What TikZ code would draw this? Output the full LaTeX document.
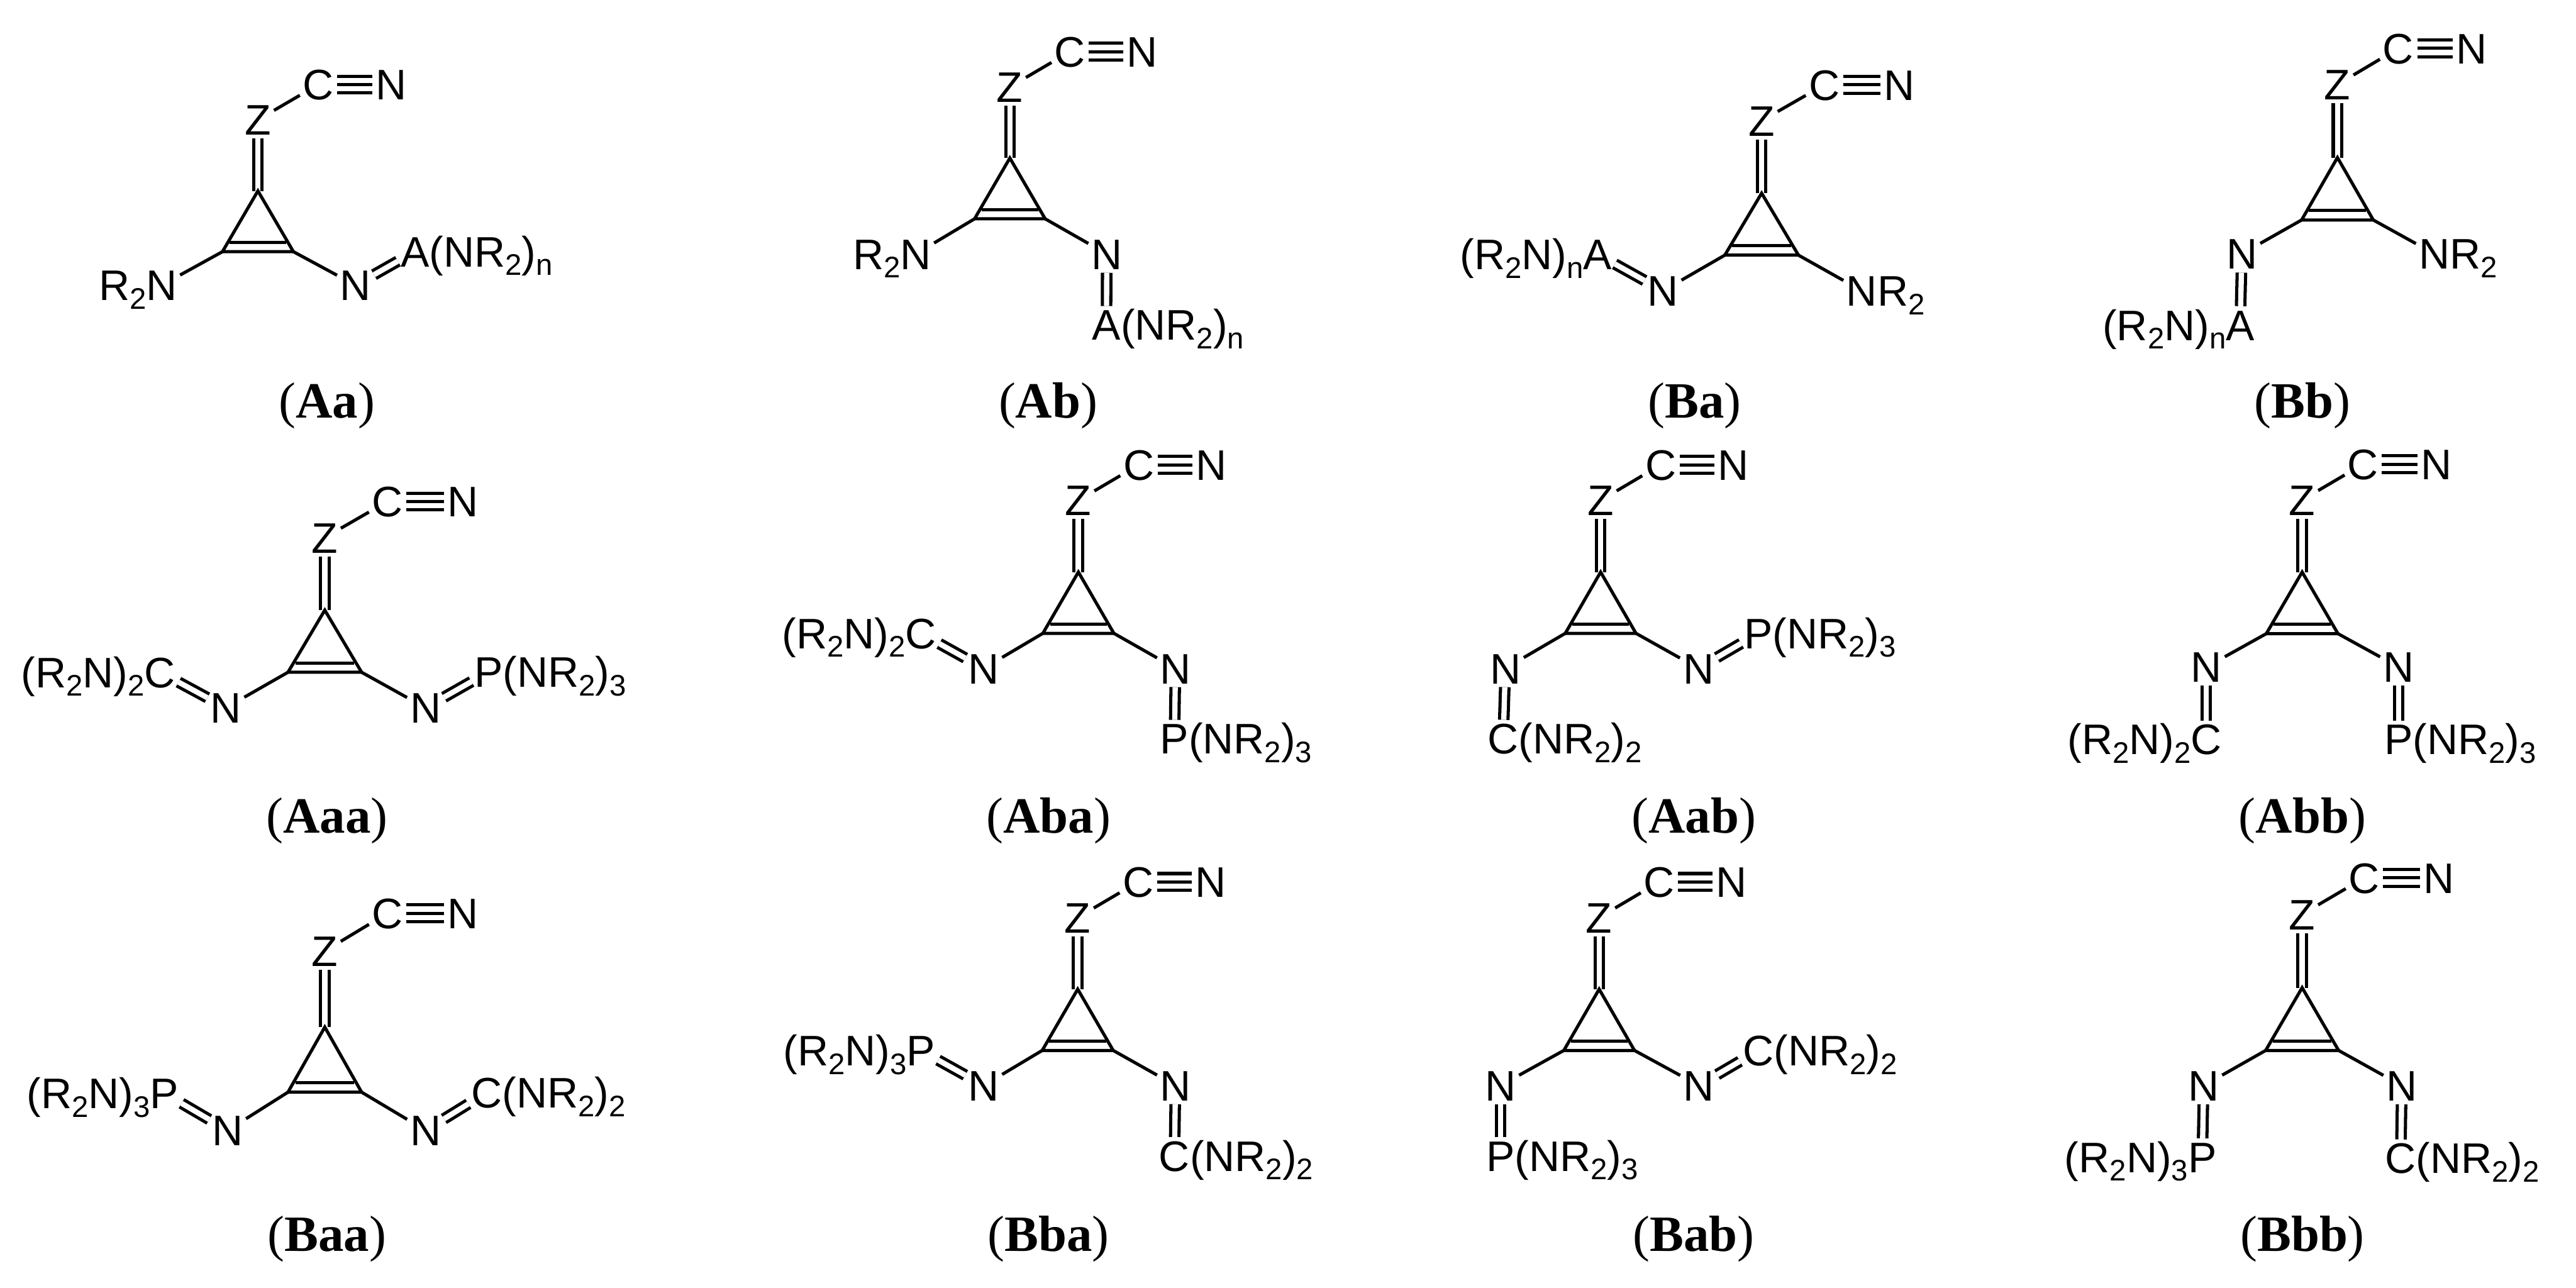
\documentclass[tikz,border=0pt]{standalone}
\usepackage{fontspec}
\setmainfont{Liberation Serif}
\setsansfont{Liberation Sans}
\usetikzlibrary{positioning}

\tikzset{
	atom/.style={inner sep=0pt, outer sep=0pt, text height=5.3pt, text depth=0pt, font=\sffamily\fontsize{7.4}{9}\selectfont},
	molname/.style={inner sep=0pt, outer sep=0pt, font=\fontsize{8.8}{10}\selectfont},
	bond/.style={line width=0.55pt},
	dbond/.style={line width=0.55pt, double, double distance=0.032cm, shorten >=0.6pt, shorten <=0.6pt},
}
\newcommand{\sbs}[1]{\raisebox{-1.47pt}{\fontsize{5.15}{6}\selectfont #1}}
% ring, exocyclic Z-CN and the two ring nitrogens
% name, apex x, apex y, half width, height, left N, right N
\newcommand{\ringcore}[7]{
	\coordinate (#1t) at (#2,#3);
	\coordinate (#1l) at ({#2-#4},{#3+#5});
	\coordinate (#1r) at ({#2+#4},{#3+#5});
	\coordinate (#1il) at ({#2-0.8*#4},{#3+0.85*#5});
	\coordinate (#1ir) at ({#2+0.8*#4},{#3+0.85*#5});
	\node[atom] (#1Z) at (#2,{#3-1.17*#5}) {Z};
	\node[atom] (#1C) at ({#2+1.7*#4},{#3-1.75*#5}) {C};
	\node[atom] (#1N) at ({#2+3.75*#4},{#3-1.75*#5}) {N};
	\node[atom] (#1Na) at (#6) {N};
	\node[atom] (#1Nb) at (#7) {N};
	\draw[dbond, shorten >=0pt] (#1Z) -- (#1t);
	\draw[bond] (#1t) -- (#1l) -- (#1r) -- cycle;
	\draw[bond] (#1il) -- (#1ir);
	\draw[bond, shorten >=0.6pt] (#1l) -- (#1Na);
	\draw[bond, shorten >=0.6pt] (#1r) -- (#1Nb);
	\draw[bond, shorten >=0.6pt, shorten <=0.6pt] (#1Z) -- (#1C);
	\foreach \d in {-0.051,0,0.051}
		\draw[bond, shorten >=0.6pt, shorten <=0.6pt] ([yshift=\d cm]#1C.east) -- ([yshift=\d cm]#1N.west);
}

\begin{document}
\begin{tikzpicture}[x=0.01cm, y=-0.01cm]
	\useasboundingbox (0,0) rectangle (1568,784);

	% first row
	\ringcore{Aa}{157}{116.2}{21.6}{37}{98.4,173.6}{216.4,173.6}
	\node[atom, left=0pt of AaNa] (AaRa) {R\sbs{2}};
	\node[atom] (AaA) at (252.7,153) {A};
	\node[atom, right=0pt of AaA] (AaAt) {(NR\sbs{2})\sbs{n}};
	\draw[dbond] (AaNb) -- (AaA);
	\node[molname] (AaName) at (199,247) {(\textbf{Aa})};

	\ringcore{Ab}{614.7}{96.2}{21.5}{37}{557.4,154.6}{673.7,154.6}
	\node[atom, left=0pt of AbNa] (AbRa) {R\sbs{2}};
	\node[atom] (AbA) at (673.5,197.7) {A};
	\node[atom, right=0pt of AbA] (AbAt) {(NR\sbs{2})\sbs{n}};
	\draw[dbond] (AbNb) -- (AbA);
	\node[molname] (AbName) at (638,247) {(\textbf{Ab})};

	\ringcore{Ba}{1072.3}{117.6}{22.4}{37.7}{1012.3,177}{1133.3,177}
	\node[atom, right=0pt of BaNb] (BaRb) {R\sbs{2}};
	\node[atom] (BaA) at (972.4,154.8) {A};
	\node[atom, left=0pt of BaA] (BaAt) {(R\sbs{2}N)\sbs{n}};
	\draw[dbond] (BaNa) -- (BaA);
	\node[molname] (BaName) at (1031.5,247) {(\textbf{Ba})};

	\ringcore{Bb}{1422.8}{95.9}{21.8}{38}{1364.6,154.5}{1481.8,154.5}
	\node[atom, right=0pt of BbNb] (BbRb) {R\sbs{2}};
	\node[atom] (BbA) at (1363.6,197.8) {A};
	\node[atom, left=0pt of BbA] (BbAt) {(R\sbs{2}N)\sbs{n}};
	\draw[dbond] (BbNa) -- (BbA);
	\node[molname] (BbName) at (1401.5,247) {(\textbf{Bb})};

	% second row
	\ringcore{Aaa}{197.7}{371.4}{22.4}{37.8}{137.5,430.8}{259,430.8}
	\node[atom] (AaaC) at (97.4,409.1) {C};
	\node[atom, left=0pt of AaaC] (AaaCt) {(R\sbs{2}N)\sbs{2}};
	\node[atom] (AaaP) at (297.5,408.9) {P};
	\node[atom, right=0pt of AaaP] (AaaPt) {(NR\sbs{2})\sbs{3}};
	\draw[dbond] (AaaNa) -- (AaaC);
	\draw[dbond] (AaaNb) -- (AaaP);
	\node[molname] (AaaName) at (199,499.5) {(\textbf{Aaa})};

	\ringcore{Aba}{656.4}{348.2}{21.6}{37.3}{598.8,406.8}{715.5,406.8}
	\node[atom] (AbaC) at (560.5,385.5) {C};
	\node[atom, left=0pt of AbaC] (AbaCt) {(R\sbs{2}N)\sbs{2}};
	\node[atom] (AbaP) at (714.9,449.6) {P};
	\node[atom, right=0pt of AbaP] (AbaPt) {(NR\sbs{2})\sbs{3}};
	\draw[dbond] (AbaNa) -- (AbaC);
	\draw[dbond] (AbaNb) -- (AbaP);
	\node[molname] (AbaName) at (638.2,499.5) {(\textbf{Aba})};

	\ringcore{Aab}{974.3}{348.2}{21.5}{37.3}{916.3,406.8}{1033.8,406.8}
	\node[atom] (AabC) at (915,449.6) {C};
	\node[atom, right=0pt of AabC] (AabCt) {(NR\sbs{2})\sbs{2}};
	\node[atom] (AabP) at (1070.3,385.5) {P};
	\node[atom, right=0pt of AabP] (AabPt) {(NR\sbs{2})\sbs{3}};
	\draw[dbond] (AabNa) -- (AabC);
	\draw[dbond] (AabNb) -- (AabP);
	\node[molname] (AabName) at (1031,499.5) {(\textbf{Aab})};

	\ringcore{Abb}{1401.3}{348.2}{21.8}{37.5}{1343,406}{1460,406}
	\node[atom] (AbbC) at (1343,450) {C};
	\node[atom, left=0pt of AbbC] (AbbCt) {(R\sbs{2}N)\sbs{2}};
	\node[atom] (AbbP) at (1460,450) {P};
	\node[atom, right=0pt of AbbP] (AbbPt) {(NR\sbs{2})\sbs{3}};
	\draw[dbond] (AbbNa) -- (AbbC);
	\draw[dbond] (AbbNb) -- (AbbP);
	\node[molname] (AbbName) at (1401.5,499.5) {(\textbf{Abb})};

	% third row
	\ringcore{Baa}{197.7}{625.2}{22.4}{39.6}{138.6,688}{259,688}
	\node[atom] (BaaP) at (100,665.4) {P};
	\node[atom, left=0pt of BaaP] (BaaPt) {(R\sbs{2}N)\sbs{3}};
	\node[atom] (BaaC) at (296.3,665) {C};
	\node[atom, right=0pt of BaaC] (BaaCt) {(NR\sbs{2})\sbs{2}};
	\draw[dbond] (BaaNa) -- (BaaP);
	\draw[dbond] (BaaNb) -- (BaaC);
	\node[molname] (BaaName) at (199,754) {(\textbf{Baa})};

	\ringcore{Bba}{656}{602.1}{21.6}{37.3}{598.8,660.7}{715.5,660.7}
	\node[atom] (BbaP) at (560.5,639.4) {P};
	\node[atom, left=0pt of BbaP] (BbaPt) {(R\sbs{2}N)\sbs{3}};
	\node[atom] (BbaC) at (714.9,703.5) {C};
	\node[atom, right=0pt of BbaC] (BbaCt) {(NR\sbs{2})\sbs{2}};
	\draw[dbond] (BbaNa) -- (BbaP);
	\draw[dbond] (BbaNb) -- (BbaC);
	\node[molname] (BbaName) at (638.2,754) {(\textbf{Bba})};

	\ringcore{Bab}{973.4}{602.1}{21.5}{37.3}{913.4,660.7}{1034,660.7}
	\node[atom] (BabP) at (913.4,703.5) {P};
	\node[atom, right=0pt of BabP] (BabPt) {(NR\sbs{2})\sbs{3}};
	\node[atom] (BabC) at (1070.3,639.4) {C};
	\node[atom, right=0pt of BabC] (BabCt) {(NR\sbs{2})\sbs{2}};
	\draw[dbond] (BabNa) -- (BabP);
	\draw[dbond] (BabNb) -- (BabC);
	\node[molname] (BabName) at (1031,754) {(\textbf{Bab})};

	\ringcore{Bbb}{1401.3}{601.2}{22.2}{38.2}{1341.4,660.8}{1462,660.8}
	\node[atom] (BbbP) at (1340.5,704.3) {P};
	\node[atom, left=0pt of BbbP] (BbbPt) {(R\sbs{2}N)\sbs{3}};
	\node[atom] (BbbC) at (1461.3,705) {C};
	\node[atom, right=0pt of BbbC] (BbbCt) {(NR\sbs{2})\sbs{2}};
	\draw[dbond] (BbbNa) -- (BbbP);
	\draw[dbond] (BbbNb) -- (BbbC);
	\node[molname] (BbbName) at (1401.5,754) {(\textbf{Bbb})};
\end{tikzpicture}
\end{document}
